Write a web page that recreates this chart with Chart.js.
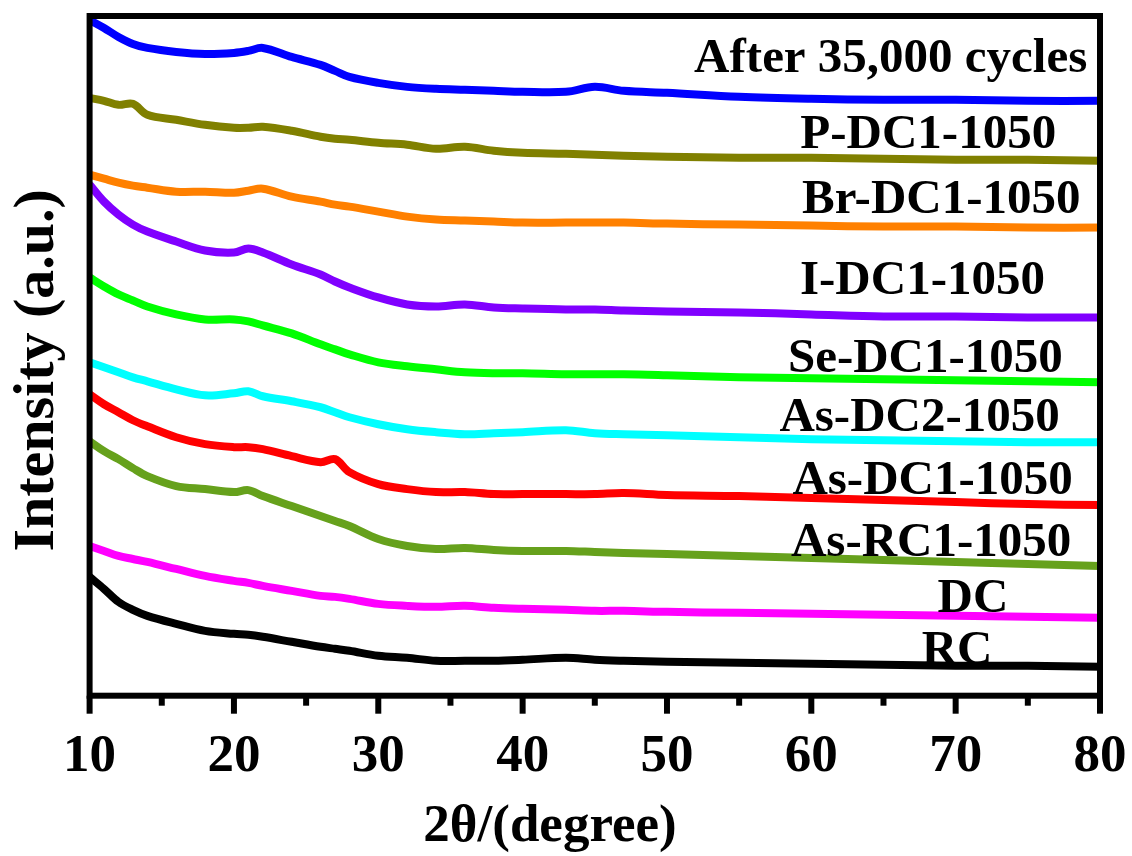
<!DOCTYPE html>
<html>
<head>
<meta charset="utf-8">
<script src="https://cdn.jsdelivr.net/npm/chart.js@4.4.1/dist/chart.umd.min.js"></script>
<style>
  html, body { margin: 0; padding: 0; background: #fff; }
  #xrd { display: block; }
</style>
</head>
<body>
<canvas id="xrd" width="1132" height="856"></canvas>
<script>
// 2theta positions (degree), shared by every pattern
const twoTheta = [10, 11, 12, 13, 14, 16, 18, 20, 21, 22, 24, 26, 27, 28, 30, 32, 34, 36, 38, 40, 43, 45, 47, 50, 55, 60, 65, 70, 75, 80];

// intensities (a.u., already offset for stacking)
const rc       = [119, 107, 94, 86, 80, 72, 65, 62, 61, 59, 54, 49, 47, 45, 40, 38, 35, 35, 35, 36, 38, 36, 35, 34, 33, 32, 31, 30, 30, 29];
const dc       = [150, 145, 140, 137, 134, 127, 120, 115, 113, 110, 105, 100, 99, 97, 92, 90, 89, 90, 88, 87, 86, 85, 85, 84, 83, 82, 81, 80, 79, 78];
const asRC1    = [255, 245, 237, 228, 220, 210, 207, 204, 206, 200, 190, 180, 175, 170, 157, 150, 147, 148, 146, 145, 145, 144, 143, 142, 140, 138, 136, 134, 132, 130];
const asDC1    = [302, 292, 284, 276, 270, 259, 252, 249, 249, 247, 240, 234, 237, 224, 212, 207, 204, 204, 202, 202, 202, 202, 203, 201, 200, 198, 196, 194, 192, 191];
const asDC2    = [334, 329, 324, 319, 315, 307, 301, 303, 305, 300, 295, 289, 284, 279, 272, 267, 264, 262, 263, 264, 266, 263, 262, 261, 259, 257, 256, 255, 254, 254];
const seDC1    = [419, 410, 402, 396, 390, 382, 377, 377, 375, 371, 363, 352, 347, 342, 334, 330, 327, 324, 323, 323, 322, 322, 322, 321, 319, 318, 317, 316, 315, 314];
const iDC1     = [512, 495, 482, 472, 465, 455, 446, 444, 448, 444, 432, 422, 415, 409, 399, 392, 390, 392, 389, 388, 387, 387, 386, 385, 384, 382, 380, 380, 379, 379];
const brDC1    = [522, 518, 514, 511, 509, 505, 505, 504, 506, 508, 500, 495, 492, 490, 485, 480, 477, 476, 475, 474, 474, 474, 474, 473, 472, 471, 470, 470, 469, 469];
const pDC1     = [599, 596, 592, 593, 582, 577, 572, 569, 569, 570, 566, 560, 558, 557, 554, 552, 548, 550, 546, 544, 543, 542, 541, 540, 539, 539, 538, 537, 537, 536];
const after35k = [677, 669, 660, 653, 649, 645, 643, 644, 646, 649, 640, 632, 626, 620, 614, 610, 608, 607, 606, 605, 605, 610, 606, 604, 600, 598, 597, 597, 596, 596];

const seriesNames = ['RC', 'DC', 'As-RC1-1050', 'As-DC1-1050', 'As-DC2-1050', 'Se-DC1-1050', 'I-DC1-1050', 'Br-DC1-1050', 'P-DC1-1050', 'After 35,000 cycles'];
const seriesValues = [rc, dc, asRC1, asDC1, asDC2, seDC1, iDC1, brDC1, pDC1, after35k];
const seriesColors = ['#000000', '#ff00ff', '#66a11c', '#ff0000', '#00ffff', '#00ff00', '#8000ff', '#ff8000', '#808000', '#0000ff'];

// where each name sits (2theta, intensity)
const labelX = [70.1, 71.2, 68.3, 68.4, 67.5, 67.9, 67.7, 69.0, 68.1, 65.5];
const labelY = [32, 84, 140, 202, 265, 324, 402, 484, 549, 625];

const xTicks = [10, 20, 30, 40, 50, 60, 70, 80];

const serif = "'Liberation Serif', 'Times New Roman', serif";

// frame, tick marks and curve names
const decorPlugin = {
    id: 'decor',
    afterDatasetsDraw(chart) {
        const ctx = chart.ctx;
        const xs = chart.scales.x, ys = chart.scales.y;
        const a = chart.chartArea;
        ctx.save();
        ctx.strokeStyle = '#000';
        ctx.lineWidth = 6;
        ctx.strokeRect(a.left, a.top, a.right - a.left, a.bottom - a.top);
        for (let v = xs.min; v <= xs.max; v += 5) {
            const px = xs.getPixelForValue(v);
            const len = (v % 10 === 0) ? 18 : 10;
            ctx.beginPath();
            ctx.moveTo(px, a.bottom);
            ctx.lineTo(px, a.bottom + len);
            ctx.stroke();
        }
        ctx.fillStyle = '#000';
        ctx.font = 'bold 49px ' + serif;
        ctx.textAlign = 'center';
        ctx.textBaseline = 'alphabetic';
        seriesNames.forEach((name, i) => {
            ctx.fillText(name, xs.getPixelForValue(labelX[i]), ys.getPixelForValue(labelY[i]));
        });
        ctx.restore();
    }
};

const ctx = document.getElementById('xrd').getContext('2d');
new Chart(ctx, {
    type: 'line',
    data: {
        datasets: seriesNames.map((name, i) => ({
            label: name,
            data: twoTheta.map((t, j) => ({ x: t, y: seriesValues[i][j] })),
            borderColor: seriesColors[i],
            borderWidth: 8,
            pointRadius: 0,
            tension: 0.35,
            fill: false
        }))
    },
    options: {
        responsive: false,
        animation: false,
        events: [],
        layout: { padding: { left: 0, top: 16, right: 32, bottom: 0 } },
        plugins: {
            legend: { display: false },
            tooltip: { enabled: false },
            title: {
                display: true,
                position: 'bottom',
                text: '2θ/(degree)',
                color: '#000',
                font: { family: serif, size: 53, weight: 'bold', lineHeight: 1.1 },
                padding: { top: 17, bottom: 0 }
            }
        },
        scales: {
            x: {
                type: 'linear',
                min: 10,
                max: 80,
                afterBuildTicks: s => { s.ticks = xTicks.map(v => ({ value: v })); },
                afterFit: s => { s.height = 85; s.paddingRight = 0; s.paddingLeft = 0; },
                grid: { display: false, drawTicks: false },
                border: { display: false },
                ticks: {
                    color: '#000',
                    padding: 30,
                    maxRotation: 0,
                    font: { family: serif, size: 53, weight: 'bold' }
                }
            },
            y: {
                min: 0,
                max: 681,
                grid: { display: false, drawTicks: false },
                border: { display: false },
                ticks: { display: false },
                title: {
                    display: true,
                    text: 'Intensity (a.u.)  ',
                    color: '#000',
                    padding: { top: 3, bottom: 17 },
                    font: { family: serif, size: 58, weight: 'bold', lineHeight: 1.2 }
                }
            }
        }
    },
    plugins: [decorPlugin]
});
</script>
</body>
</html>
